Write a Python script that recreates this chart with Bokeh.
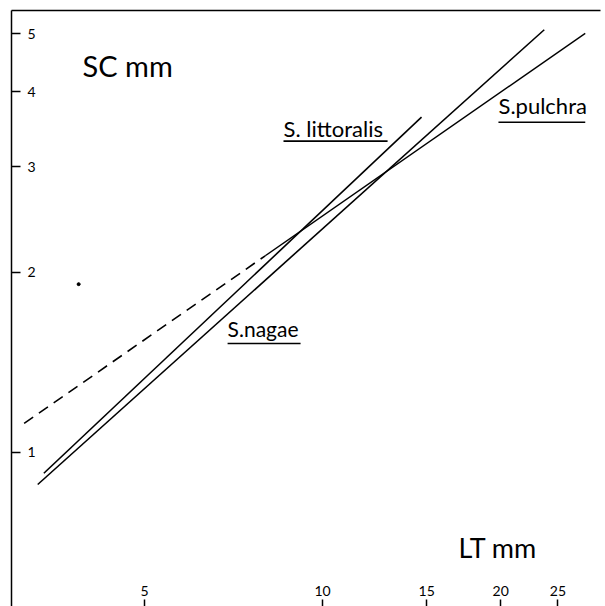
from bokeh.plotting import figure
from bokeh.models import Range1d, FixedTicker, LogAxis
from bokeh.core.properties import value
from bokeh.embed import file_html
from bokeh.resources import INLINE

# ---- data (LT mm vs SC mm, log-log regression lines) ----
littoralis_lt = [3.38, 14.7]
littoralis_sc = [0.923, 3.63]
nagae_lt = [3.30, 23.7]
nagae_sc = [0.884, 5.08]
pulchra_lt = [8.0, 27.8]
pulchra_sc = [2.13, 5.01]
pulchra_ext_lt = [3.13, 8.0]
pulchra_ext_sc = [1.118, 2.13]
stray_lt = [3.87]
stray_sc = [1.91]

x_ticks = [5, 10, 15, 20, 25]
y_ticks = [1, 2, 3, 4, 5]

X_MIN, X_MAX = 2.98, 29.5
Y_MIN, Y_MAX = 0.553, 5.47

FONT = "Lato"

p = figure(width=605, height=606, x_axis_type="log", y_axis_type="log",
           x_range=Range1d(X_MIN, X_MAX), y_range=Range1d(Y_MIN, Y_MAX),
           output_backend="svg", toolbar_location=None,
           min_border_left=11, min_border_top=10, min_border_right=5, min_border_bottom=0)
p.grid.visible = False
p.outline_line_color = None
p.background_fill_color = "white"

for ax in (p.xaxis[0], p.yaxis[0]):
    ax.major_tick_out = 0
    ax.minor_tick_line_color = None
    ax.major_tick_line_color = "black"
    ax.major_tick_line_width = 1.5
    ax.major_label_text_font = FONT
    ax.major_label_text_font_size = "14px"
    ax.major_label_text_color = "black"

p.xaxis.ticker = FixedTicker(ticks=x_ticks)
p.yaxis.ticker = FixedTicker(ticks=y_ticks)
p.xaxis.major_tick_in = 7
p.xaxis.major_label_standoff = -21
p.xaxis.axis_line_color = None
p.yaxis.major_tick_in = 9
p.yaxis.major_label_standoff = -24
p.yaxis.axis_line_color = "black"
p.yaxis.axis_line_width = 1.5

top = LogAxis(ticker=FixedTicker(ticks=[]), major_tick_out=0, major_tick_in=0,
              minor_tick_line_color=None, major_label_standoff=0,
              axis_line_color="black", axis_line_width=1.5)
p.add_layout(top, "above")

# lines
p.line(littoralis_lt, littoralis_sc, line_color="black", line_width=1.6)
p.line(nagae_lt, nagae_sc, line_color="black", line_width=1.6)
p.line(pulchra_lt, pulchra_sc, line_color="black", line_width=1.4)
p.line(pulchra_ext_lt, pulchra_ext_sc, line_color="black", line_width=1.6, line_dash="11 7")
p.scatter(stray_lt, stray_sc, size=3, color="black")

# axis titles
p.text(x=[3.93], y=[4.42], text=["SC mm"], text_font=value(FONT), text_font_size="29px",
       text_baseline="middle", text_align="left", text_color="black")
p.text(x=[16.97], y=[0.693], text=["LT mm"], text_font=value(FONT), text_font_size="27px",
       text_baseline="middle", text_align="left", text_color="black")

# species labels with underlines
label_x = [8.59, 19.83, 6.91]
label_y = [3.47, 3.79, 1.613]
label_txt = ["S. littoralis", "S.pulchra", "S.nagae"]
label_size = ["22px", "22px", "21px"]
for lx, ly, lt, ls in zip(label_x, label_y, label_txt, label_size):
    p.text(x=[lx], y=[ly], text=[lt], text_font=value(FONT), text_font_size=ls,
           text_baseline="middle", text_align="left", text_color="black")

ul_x0 = [8.59, 19.83, 6.91]
ul_x1 = [12.88, 27.8, 9.18]
ul_y = [3.31, 3.56, 1.52]
p.segment(x0=ul_x0, y0=ul_y, x1=ul_x1, y1=ul_y, line_color="black", line_width=1.6)

open("out.html", "w").write(file_html(p, INLINE))
